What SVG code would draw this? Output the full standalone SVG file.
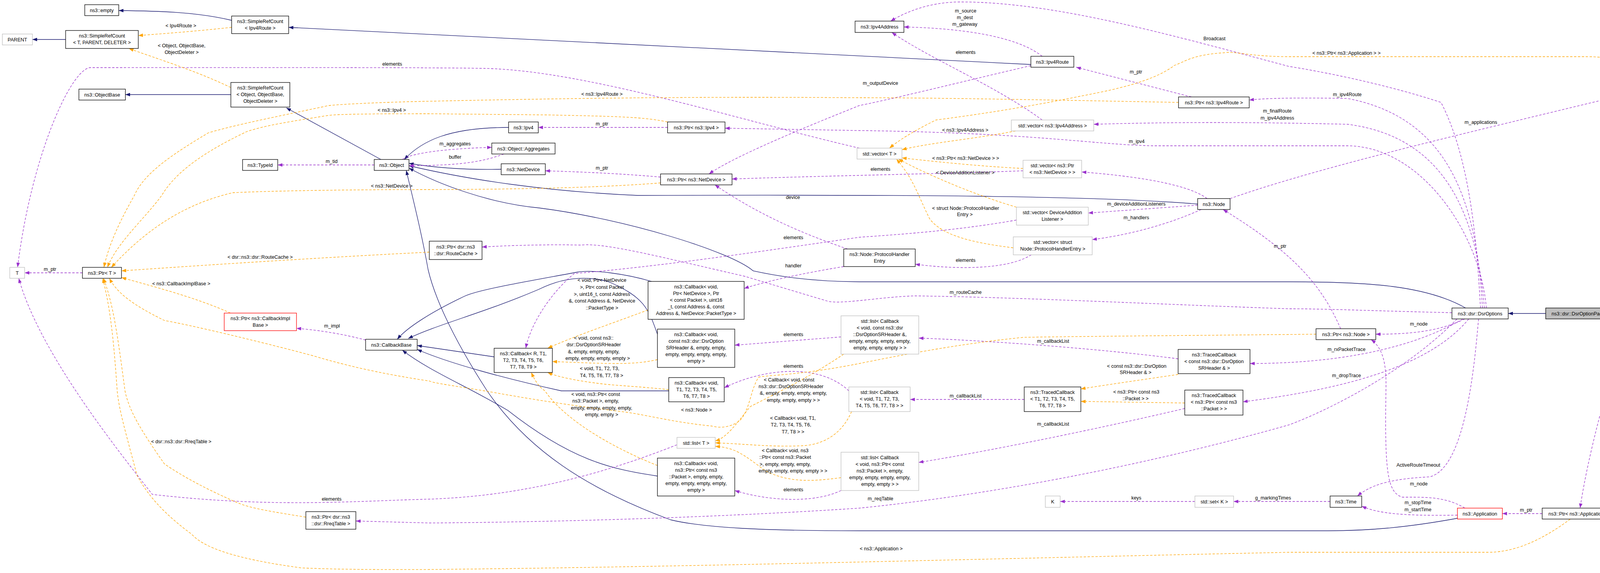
<svg xmlns="http://www.w3.org/2000/svg" width="4395" height="1466" viewBox="0 0 4395 1466">
<style>
rect{fill:#fff;stroke:#000;stroke-width:1.3}
.g rect{stroke:#bfbfbf}
.r rect{stroke:#f00}
.s rect{fill:#bfbfbf}
text{font-family:"Liberation Sans",Arial,sans-serif;font-size:12.5px;text-anchor:middle;fill:#000}
.i{fill:none;stroke:#191970;stroke-width:1.3;marker-end:url(#mb)}
.u{fill:none;stroke:#9a32cd;stroke-width:1.3;stroke-dasharray:6,4;marker-end:url(#mp)}
.o{fill:none;stroke:#ffa500;stroke-width:1.3;stroke-dasharray:6,4;marker-end:url(#mo)}
</style>
<defs>
<marker id="mb" markerUnits="userSpaceOnUse" markerWidth="12" markerHeight="9" refX="12" refY="4.5" orient="auto"><path d="M0,0L12,4.5L0,9z" fill="#191970"/></marker>
<marker id="mp" markerUnits="userSpaceOnUse" markerWidth="12" markerHeight="9" refX="12" refY="4.5" orient="auto"><path d="M0,0L12,4.5L0,9z" fill="#9a32cd"/></marker>
<marker id="mo" markerUnits="userSpaceOnUse" markerWidth="12" markerHeight="9" refX="12" refY="4.5" orient="auto"><path d="M0,0L12,4.5L0,9z" fill="#ffa500"/></marker>
</defs>
<rect x="0" y="0" width="4395" height="1466" style="stroke:none"/>
<g id="edges">
<!-- inheritance -->
<path class="i" d="M593,52 C500,30 400,28 304,27"/>
<path class="i" d="M2639,165 L739,70"/>
<path class="i" d="M168,101 L83,101"/>
<path class="i" d="M591,242 L321,242"/>
<path class="i" d="M975,408 L733,276"/>
<path class="i" d="M1302,326 C1150,326 1080,360 1035,408"/>
<path class="i" d="M1283,433 C1200,435 1120,430 1047,418"/>
<path class="i" d="M3066,522 C2800,500 2300,498 1633,500 C1400,490 1200,460 1047,424"/>
<path class="i" d="M3752,788 C3650,730 3500,721 3300,721 L2200,721 C2050,720 1960,700 1928,693 C1870,643 1600,560 1380,532 C1250,520 1120,470 1047,430"/>
<path class="i" d="M3731,1326 C3600,1350 3500,1358 3400,1358 L2200,1358 C1950,1358 1800,1350 1717,1330 C1500,1250 1350,1150 1247,1000 C1150,850 1110,750 1096,690 C1080,600 1060,520 1040,436"/>
<path class="i" d="M1668,720 C1600,700 1520,690 1479,696 C1350,720 1230,740 1191,757 C1100,800 1040,840 1017,868"/>
<path class="i" d="M1683,855 C1660,790 1650,760 1556,720 C1480,700 1420,720 1380,740 C1240,800 1120,830 1045,866"/>
<path class="i" d="M1265,913 L1068,884"/>
<path class="i" d="M1712,1000 L1437,1000 C1300,970 1150,930 1068,894"/>
<path class="i" d="M1683,1218 C1560,1200 1460,1175 1300,1050 C1200,990 1100,950 1030,896"/>
<path class="i" d="M3957,802 L3861,802"/>
<!-- usage -->
<path class="u" d="M958,422 L711,422"/>
<path class="u" d="M1031,407 C1060,390 1150,380 1259,377"/>
<path class="u" d="M1290,394 C1220,420 1150,423 1047,424"/>
<path class="u" d="M1709,326 L1378,326"/>
<path class="u" d="M1691,453 C1600,445 1500,440 1396,437"/>
<path class="u" d="M211,698 L63,698"/>
<path class="u" d="M936,870 C880,855 820,845 759,840"/>
<path class="u" d="M2668,144 C2600,90 2450,72 2314,69"/>
<path class="u" d="M2639,168 C2500,200 2300,250 2200,270 C2050,330 1880,400 1815,445"/>
<path class="u" d="M3050,248 L2755,172"/>
<path class="u" d="M2668,307 C2550,220 2380,150 2283,83"/>
<path class="u" d="M3790,788 C3780,600 3760,400 3689,262 C3500,200 3300,170 3300,170 C3000,90 2700,5 2460,5 C2380,5 2320,30 2280,54"/>
<path class="u" d="M3795,788 C3780,500 3700,300 3450,252 C3350,250 3250,250 3198,256"/>
<path class="u" d="M3800,788 C3780,550 3700,350 3450,318 C3200,312 3000,312 2800,318"/>
<path class="u" d="M3805,788 C3790,600 3640,375 3450,373 L2950,373 C2800,370 2650,340 2200,334 L1856,328"/>
<path class="u" d="M3149,508 C3400,420 3800,330 4242,222"/>
<path class="u" d="M3090,508 C3040,470 2900,450 2769,440"/>
<path class="u" d="M3066,525 L2786,545"/>
<path class="u" d="M3075,536 C3000,570 2900,600 2796,613"/>
<path class="u" d="M2640,652 C2580,690 2450,690 2343,676"/>
<path class="u" d="M2170,637 C2000,580 1900,520 1830,473"/>
<path class="u" d="M2160,682 C2050,700 1960,720 1905,738"/>
<path class="u" d="M2619,437 C2400,445 2100,450 1874,458"/>
<path class="u" d="M4310,222 C4250,600 4090,1000 4045,1300"/>
<path class="u" d="M3948,1314 L3846,1314"/>
<path class="u" d="M3731,1318 C3600,1320 3530,1315 3486,1295"/>
<path class="u" d="M3750,1300 C3700,1270 3650,1272 3590,1272 C3550,1260 3545,1200 3548,1000 C3550,930 3540,890 3510,869"/>
<path class="u" d="M3785,816 C3770,1000 3740,1200 3660,1220 C3560,1225 3510,1240 3475,1269"/>
<path class="u" d="M3432,841 C3380,720 3300,640 3131,536"/>
<path class="u" d="M3750,816 C3680,850 3600,855 3522,855"/>
<path class="u" d="M3745,816 C3600,900 3400,930 3200,930"/>
<path class="u" d="M3760,816 C3650,950 3400,1000 3182,1028"/>
<path class="u" d="M3016,918 C2800,890 2500,870 2352,865"/>
<path class="u" d="M2622,1022 L2330,1022"/>
<path class="u" d="M3033,1045 C2800,1100 2500,1160 2352,1183"/>
<path class="u" d="M2153,862 C2050,870 1950,878 1881,883"/>
<path class="u" d="M2173,1000 C2100,930 1960,940 1854,992"/>
<path class="u" d="M2153,1255 C2080,1290 1960,1280 1881,1255"/>
<path class="u" d="M1733,1138 C1500,1230 1300,1270 1100,1277 C900,1282 700,1300 390,1265 C300,1150 100,900 48,712"/>
<path class="u" d="M2200,379 C1900,310 1500,180 1240,175 C1100,172 500,173 230,173 C180,180 80,400 45,684"/>
<path class="u" d="M2602,563 C2450,590 2300,600 2200,607 C1900,650 1700,680 1470,700 C1420,740 1360,820 1346,891"/>
<path class="u" d="M3717,800 C3500,795 3400,790 3300,790 C3000,780 2600,760 2340,757 C2250,760 2150,780 2117,770 C2050,750 1950,720 1907,707 C1700,660 1550,620 1486,627 C1400,625 1300,628 1234,632"/>
<path class="u" d="M3730,816 C3600,950 3400,1050 3300,1087 C2900,1200 2500,1270 2200,1300 C1900,1320 1500,1335 1100,1338 L911,1333"/>
<path class="u" d="M3059,1283 L2714,1283"/>
<path class="u" d="M3405,1283 L3158,1283"/>
<!-- template -->
<path class="o" d="M593,70 C500,80 420,86 354,91"/>
<path class="o" d="M591,224 C500,180 400,150 330,124"/>
<path class="o" d="M3017,262 C2700,256 2400,250 2200,250 C1900,248 1600,248 1100,259 C950,262 860,268 842,270 C700,300 600,320 533,340 C450,390 370,440 344,500 C310,560 280,620 266,684"/>
<path class="o" d="M1709,312 C1650,300 1600,298 1400,294 L1100,291 C950,291 870,292 842,295 C750,310 680,320 631,337 C520,390 450,440 414,500 C370,560 300,620 275,684"/>
<path class="o" d="M1691,468 C1600,475 1450,484 1100,485 C900,485 700,488 596,493 C480,520 380,580 285,684"/>
<path class="o" d="M1099,645 C800,660 500,680 311,693"/>
<path class="o" d="M590,801 C500,760 380,730 311,710"/>
<path class="o" d="M783,1323 C700,1310 640,1300 610,1287 C500,1240 440,1200 421,1187 C360,1100 330,1050 320,1000 C300,850 290,780 265,712"/>
<path class="o" d="M4020,1328 C3950,1380 3880,1413 3810,1413 L3300,1413 C2500,1430 1800,1450 1100,1457 C900,1458 820,1455 772,1453 C600,1430 520,1400 491,1367 C400,1300 370,1250 351,1217 C320,1100 305,1050 300,1000 C290,850 280,780 263,712"/>
<path class="o" d="M3369,855 C3100,858 2800,860 2621,863 C2450,880 2300,910 2200,930 C2050,960 1960,960 1942,965 C1920,1000 1920,1050 1893,1077 C1860,1100 1830,1092 1822,1090 C1720,1080 1650,1060 1591,1053 C1400,1030 1300,1010 1240,1000 C1150,985 1110,980 1100,975 C1000,960 900,940 801,910 C650,870 480,830 421,820 C340,780 300,750 280,712"/>
<path class="o" d="M1659,793 C1560,830 1470,860 1402,891"/>
<path class="o" d="M1683,920 C1620,935 1550,930 1414,925"/>
<path class="o" d="M1712,997 C1650,990 1600,988 1549,983 C1480,975 1430,965 1402,953"/>
<path class="o" d="M1683,1191 C1580,1150 1450,1080 1395,1000 C1380,990 1370,975 1360,953"/>
<path class="o" d="M2160,906 C2080,960 2000,1000 1921,1040 C1880,1090 1860,1120 1831,1128"/>
<path class="o" d="M2180,1053 C2160,1100 2120,1135 2060,1140 C1980,1145 1900,1135 1831,1133"/>
<path class="o" d="M2153,1222 C2080,1232 2020,1235 1960,1205 C1900,1160 1880,1145 1831,1142"/>
<path class="o" d="M2600,335 C2500,355 2380,365 2309,383"/>
<path class="o" d="M2619,431 C2500,425 2380,412 2309,404"/>
<path class="o" d="M2602,530 C2500,500 2380,450 2300,407"/>
<path class="o" d="M2594,634 C2480,620 2410,600 2380,560 C2350,500 2340,460 2295,407"/>
<path class="o" d="M4242,177 C4150,150 4100,145 4060,145 L3300,145 C3200,145 3160,130 3133,135 C3050,140 3030,160 3007,167 C2950,210 2850,230 2761,247 C2600,280 2450,300 2396,307 C2330,340 2300,360 2277,379"/>
<path class="o" d="M3016,958 C2900,975 2830,985 2767,995"/>
<path class="o" d="M3033,1031 C2950,1030 2850,1028 2767,1027"/>
</g>
<!-- edge labels -->
<g id="labels">
<text x="463" y="70">&lt; Ipv4Route &gt;</text>
<text x="465" y="121">&lt; Object, ObjectBase,</text>
<text x="465" y="138">ObjectDeleter &gt;</text>
<text x="1004" y="168">elements</text>
<text x="1003" y="286">&lt; ns3::Ipv4 &gt;</text>
<text x="849" y="417">m_tid</text>
<text x="1003" y="480">&lt; ns3::NetDevice &gt;</text>
<text x="128" y="693">m_ptr</text>
<text x="666" y="662">&lt; dsr::ns3::dsr::RouteCache &gt;</text>
<text x="464" y="730">&lt; ns3::CallbackImplBase &gt;</text>
<text x="850" y="838">m_impl</text>
<text x="464" y="1134">&lt; dsr::ns3::dsr::RreqTable &gt;</text>
<text x="849" y="1281">elements</text>
<text x="1541" y="245">&lt; ns3::Ipv4Route &gt;</text>
<text x="1541" y="321">m_ptr</text>
<text x="1165" y="372">m_aggregates</text>
<text x="1165" y="406">buffer</text>
<text x="1541" y="434">m_ptr</text>
<text x="2030" y="509">device</text>
<text x="2031" y="612">elements</text>
<text x="2031" y="684">handler</text>
<text x="1541" y="721">&lt; void, Ptr&lt; NetDevice</text>
<text x="1541" y="739">&gt;, Ptr&lt; const Packet</text>
<text x="1541" y="757">&gt;, uint16_t, const Address</text>
<text x="1541" y="774">&amp;, const Address &amp;, NetDevice</text>
<text x="1541" y="792">::PacketType &gt;</text>
<text x="1520" y="869">&lt; void, const ns3::</text>
<text x="1520" y="886">dsr::DsrOptionSRHeader</text>
<text x="1520" y="904">&amp;, empty, empty, empty,</text>
<text x="1530" y="921">empty, empty, empty, empty &gt;</text>
<text x="2031" y="860">elements</text>
<text x="1535" y="947">&lt; void, T1, T2, T3,</text>
<text x="1540" y="965">T4, T5, T6, T7, T8 &gt;</text>
<text x="2031" y="941">elements</text>
<text x="2020" y="976">&lt; Callback&lt; void, const</text>
<text x="2025" y="993">ns3::dsr::DsrOptionSRHeader</text>
<text x="2031" y="1010">&amp;, empty, empty, empty, empty,</text>
<text x="2031" y="1028">empty, empty, empty &gt; &gt;</text>
<text x="1525" y="1013">&lt; void, ns3::Ptr&lt; const</text>
<text x="1525" y="1030">ns3::Packet &gt;, empty,</text>
<text x="1540" y="1048">empty, empty, empty, empty,</text>
<text x="1540" y="1065">empty, empty &gt;</text>
<text x="1783" y="1053">&lt; ns3::Node &gt;</text>
<text x="2030" y="1074">&lt; Callback&lt; void, T1,</text>
<text x="2025" y="1091">T2, T3, T4, T5, T6,</text>
<text x="2030" y="1109">T7, T8 &gt; &gt;</text>
<text x="2010" y="1157">&lt; Callback&lt; void, ns3</text>
<text x="2010" y="1174">::Ptr&lt; const ns3::Packet</text>
<text x="2010" y="1192">&gt;, empty, empty, empty,</text>
<text x="2030" y="1209">empty, empty, empty, empty &gt; &gt;</text>
<text x="2031" y="1257">elements</text>
<text x="2472" y="32">m_source</text>
<text x="2470" y="49">m_dest</text>
<text x="2470" y="66">m_gateway</text>
<text x="3109" y="103">Broadcast</text>
<text x="2472" y="138">elements</text>
<text x="2254" y="217">m_outputDevice</text>
<text x="2908" y="188">m_ptr</text>
<text x="3270" y="288">m_finalRoute</text>
<text x="3270" y="306">m_ipv4Address</text>
<text x="2471" y="337">&lt; ns3::Ipv4Address &gt;</text>
<text x="2910" y="366">m_ipv4</text>
<text x="2472" y="409">&lt; ns3::Ptr&lt; ns3::NetDevice &gt; &gt;</text>
<text x="2254" y="437">elements</text>
<text x="2471" y="446">&lt; DeviceAdditionListener &gt;</text>
<text x="2909" y="526">m_deviceAdditionListeners</text>
<text x="2472" y="537">&lt; struct Node::ProtocolHandler</text>
<text x="2470" y="553">Entry &gt;</text>
<text x="2909" y="561">m_handlers</text>
<text x="3277" y="634">m_ptr</text>
<text x="2472" y="670">elements</text>
<text x="2472" y="752">m_routeCache</text>
<text x="2696" y="877">m_callbackList</text>
<text x="2910" y="941">&lt; const ns3::dsr::DsrOption</text>
<text x="2907" y="957">SRHeader &amp; &gt;</text>
<text x="2472" y="1017">m_callbackList</text>
<text x="2909" y="1007">&lt; ns3::Ptr&lt; const ns3</text>
<text x="2907" y="1024">::Packet &gt; &gt;</text>
<text x="2696" y="1089">m_callbackList</text>
<text x="2254" y="1280">m_reqTable</text>
<text x="2909" y="1278">keys</text>
<text x="3259" y="1278">g_markingTimes</text>
<text x="2256" y="1408">&lt; ns3::Application &gt;</text>
<text x="3447" y="140">&lt; ns3::Ptr&lt; ns3::Application &gt; &gt;</text>
<text x="3449" y="246">m_ipv4Route</text>
<text x="3791" y="317">m_applications</text>
<text x="4189" y="620">elements</text>
<text x="3632" y="833">m_node</text>
<text x="3447" y="898">m_rxPacketTrace</text>
<text x="3447" y="965">m_dropTrace</text>
<text x="3631" y="1194">ActiveRouteTimeout</text>
<text x="3632" y="1242">m_node</text>
<text x="3630" y="1290">m_stopTime</text>
<text x="3630" y="1308">m_startTime</text>
<text x="3907" y="1309">m_ptr</text>
</g>
<!-- nodes -->
<g id="n_empty"><rect x="217" y="12" width="87" height="28"/><text x="260.5" y="30.5">ns3::empty</text></g>
<g id="n_srcIpv4Route"><rect x="593" y="41" width="146" height="45"/><text x="666" y="59">ns3::SimpleRefCount</text><text x="666" y="76">&lt; Ipv4Route &gt;</text></g>
<g id="n_parent" class="g"><rect x="6" y="87" width="77" height="28"/><text x="44.5" y="105.5">PARENT</text></g>
<g id="n_srcT"><rect x="168" y="78" width="186" height="46"/><text x="261" y="96">ns3::SimpleRefCount</text><text x="261" y="113">&lt; T, PARENT, DELETER &gt;</text></g>
<g id="n_objectBase"><rect x="202" y="228" width="119" height="28"/><text x="261.5" y="246.5">ns3::ObjectBase</text></g>
<g id="n_srcObject"><rect x="591" y="211" width="151" height="63"/><text x="666.5" y="229">ns3::SimpleRefCount</text><text x="666.5" y="246">&lt; Object, ObjectBase,</text><text x="666.5" y="263">ObjectDeleter &gt;</text></g>
<g id="n_typeId"><rect x="621" y="408" width="90" height="28"/><text x="666" y="426.5">ns3::TypeId</text></g>
<g id="n_object"><rect x="958" y="408" width="89" height="28"/><text x="1002.5" y="426.5">ns3::Object</text></g>
<g id="n_T" class="g"><rect x="25" y="684" width="38" height="28"/><text x="44" y="702.5">T</text></g>
<g id="n_ptrT"><rect x="211" y="684" width="100" height="28"/><text x="261" y="702.5">ns3::Ptr&lt; T &gt;</text></g>
<g id="n_ptrCbImpl" class="r"><rect x="574" y="801" width="185" height="45"/><text x="666.5" y="819">ns3::Ptr&lt; ns3::CallbackImpl</text><text x="666.5" y="836">Base &gt;</text></g>
<g id="n_callbackBase"><rect x="936" y="868" width="132" height="28"/><text x="1002" y="886.5">ns3::CallbackBase</text></g>
<g id="n_ptrRreq"><rect x="783" y="1309" width="128" height="45"/><text x="847" y="1327">ns3::Ptr&lt; dsr::ns3</text><text x="847" y="1344">::dsr::RreqTable &gt;</text></g>
<g id="n_ipv4"><rect x="1302" y="312" width="76" height="28"/><text x="1340" y="330.5">ns3::Ipv4</text></g>
<g id="n_ptrIpv4"><rect x="1709" y="312" width="147" height="28"/><text x="1782.5" y="330.5">ns3::Ptr&lt; ns3::Ipv4 &gt;</text></g>
<g id="n_aggregates"><rect x="1259" y="366" width="162" height="28"/><text x="1340" y="384.5">ns3::Object::Aggregates</text></g>
<g id="n_netDevice"><rect x="1283" y="419" width="113" height="28"/><text x="1339.5" y="437.5">ns3::NetDevice</text></g>
<g id="n_ptrNetDevice"><rect x="1691" y="445" width="183" height="28"/><text x="1782.5" y="463.5">ns3::Ptr&lt; ns3::NetDevice &gt;</text></g>
<g id="n_ptrRouteCache"><rect x="1099" y="617" width="135" height="47"/><text x="1166.5" y="636">ns3::Ptr&lt; dsr::ns3</text><text x="1166.5" y="653">::dsr::RouteCache &gt;</text></g>
<g id="n_cbNetDevice"><rect x="1659" y="720" width="246" height="97"/><text x="1782" y="738">ns3::Callback&lt; void,</text><text x="1782" y="755">Ptr&lt; NetDevice &gt;, Ptr</text><text x="1782" y="772">&lt; const Packet &gt;, uint16</text><text x="1782" y="789">_t, const Address &amp;, const</text><text x="1782" y="806">Address &amp;, NetDevice::PacketType &gt;</text></g>
<g id="n_cbDsr"><rect x="1683" y="842" width="198" height="98"/><text x="1782" y="860">ns3::Callback&lt; void,</text><text x="1782" y="877">const ns3::dsr::DsrOption</text><text x="1782" y="894">SRHeader &amp;, empty, empty,</text><text x="1782" y="911">empty, empty, empty, empty,</text><text x="1782" y="928">empty &gt;</text></g>
<g id="n_cbR"><rect x="1265" y="891" width="149" height="62"/><text x="1339.5" y="909">ns3::Callback&lt; R, T1,</text><text x="1339.5" y="926">T2, T3, T4, T5, T6,</text><text x="1339.5" y="943">T7, T8, T9 &gt;</text></g>
<g id="n_cbT"><rect x="1712" y="966" width="142" height="62"/><text x="1783" y="984">ns3::Callback&lt; void,</text><text x="1783" y="1001">T1, T2, T3, T4, T5,</text><text x="1783" y="1018">T6, T7, T8 &gt;</text></g>
<g id="n_listT" class="g"><rect x="1733" y="1119" width="98" height="28"/><text x="1782" y="1137.5">std::list&lt; T &gt;</text></g>
<g id="n_cbPkt"><rect x="1683" y="1172" width="198" height="97"/><text x="1782" y="1190">ns3::Callback&lt; void,</text><text x="1782" y="1207">ns3::Ptr&lt; const ns3</text><text x="1782" y="1224">::Packet &gt;, empty, empty,</text><text x="1782" y="1241">empty, empty, empty, empty,</text><text x="1782" y="1258">empty &gt;</text></g>
<g id="n_phe"><rect x="2160" y="637" width="183" height="45"/><text x="2251.5" y="655">ns3::Node::ProtocolHandler</text><text x="2251.5" y="672">Entry</text></g>
<g id="n_listDsr" class="g"><rect x="2153" y="808" width="199" height="98"/><text x="2252.5" y="826">std::list&lt; Callback</text><text x="2252.5" y="843">&lt; void, const ns3::dsr</text><text x="2252.5" y="860">::DsrOptionSRHeader &amp;,</text><text x="2252.5" y="877">empty, empty, empty, empty,</text><text x="2252.5" y="894">empty, empty, empty &gt; &gt;</text></g>
<g id="n_listCbT" class="g"><rect x="2173" y="990" width="157" height="63"/><text x="2251.5" y="1008">std::list&lt; Callback</text><text x="2251.5" y="1025">&lt; void, T1, T2, T3,</text><text x="2251.5" y="1042">T4, T5, T6, T7, T8 &gt; &gt;</text></g>
<g id="n_listPkt" class="g"><rect x="2153" y="1157" width="199" height="98"/><text x="2252.5" y="1175">std::list&lt; Callback</text><text x="2252.5" y="1192">&lt; void, ns3::Ptr&lt; const</text><text x="2252.5" y="1209">ns3::Packet &gt;, empty,</text><text x="2252.5" y="1226">empty, empty, empty, empty,</text><text x="2252.5" y="1243">empty, empty &gt; &gt;</text></g>
<g id="n_ipv4Address"><rect x="2189" y="54" width="125" height="29"/><text x="2251.5" y="73">ns3::Ipv4Address</text></g>
<g id="n_ipv4Route"><rect x="2639" y="144" width="110" height="28"/><text x="2694" y="162.5">ns3::Ipv4Route</text></g>
<g id="n_ptrIpv4Route"><rect x="3017" y="248" width="181" height="28"/><text x="3107.5" y="266.5">ns3::Ptr&lt; ns3::Ipv4Route &gt;</text></g>
<g id="n_vecIpv4Addr" class="g"><rect x="2589" y="307" width="211" height="28"/><text x="2694.5" y="325.5">std::vector&lt; ns3::Ipv4Address &gt;</text></g>
<g id="n_vecT" class="g"><rect x="2194" y="379" width="115" height="28"/><text x="2251.5" y="397.5">std::vector&lt; T &gt;</text></g>
<g id="n_vecPtrNd" class="g"><rect x="2619" y="410" width="150" height="45"/><text x="2694" y="428">std::vector&lt; ns3::Ptr</text><text x="2694" y="445">&lt; ns3::NetDevice &gt; &gt;</text></g>
<g id="n_node"><rect x="3066" y="508" width="83" height="28"/><text x="3107.5" y="526.5">ns3::Node</text></g>
<g id="n_vecDal" class="g"><rect x="2602" y="530" width="184" height="46"/><text x="2694" y="548">std::vector&lt; DeviceAddition</text><text x="2694" y="565">Listener &gt;</text></g>
<g id="n_vecPhe" class="g"><rect x="2594" y="606" width="202" height="46"/><text x="2695" y="624">std::vector&lt; struct</text><text x="2695" y="641">Node::ProtocolHandlerEntry &gt;</text></g>
<g id="n_tcDsr"><rect x="3016" y="894" width="184" height="62"/><text x="3108" y="912">ns3::TracedCallback</text><text x="3108" y="929">&lt; const ns3::dsr::DsrOption</text><text x="3108" y="946">SRHeader &amp; &gt;</text></g>
<g id="n_tcT"><rect x="2622" y="990" width="145" height="63"/><text x="2694.5" y="1008">ns3::TracedCallback</text><text x="2694.5" y="1025">&lt; T1, T2, T3, T4, T5,</text><text x="2694.5" y="1042">T6, T7, T8 &gt;</text></g>
<g id="n_tcPkt"><rect x="3033" y="998" width="149" height="64"/><text x="3107.5" y="1016">ns3::TracedCallback</text><text x="3107.5" y="1033">&lt; ns3::Ptr&lt; const ns3</text><text x="3107.5" y="1050">::Packet &gt; &gt;</text></g>
<g id="n_K" class="g"><rect x="2676" y="1269" width="38" height="29"/><text x="2695" y="1288">K</text></g>
<g id="n_setK" class="g"><rect x="3059" y="1269" width="99" height="29"/><text x="3108.5" y="1288">std::set&lt; K &gt;</text></g>
<g id="n_vecApp" class="g"><rect x="4242" y="177" width="151" height="45"/><text x="4317.5" y="195">std::vector&lt; ns3::Ptr</text><text x="4317.5" y="212">&lt; ns3::Application &gt; &gt;</text></g>
<g id="n_dsrOptions"><rect x="3717" y="788" width="144" height="28"/><text x="3789" y="806.5">ns3::dsr::DsrOptions</text></g>
<g id="n_padn" class="s"><rect x="3957" y="788" width="167" height="28"/><text x="4040.5" y="806.5">ns3::dsr::DsrOptionPadn</text></g>
<g id="n_ptrNode"><rect x="3369" y="841" width="153" height="28"/><text x="3445.5" y="859.5">ns3::Ptr&lt; ns3::Node &gt;</text></g>
<g id="n_time"><rect x="3405" y="1269" width="81" height="29"/><text x="3445.5" y="1288">ns3::Time</text></g>
<g id="n_application" class="r"><rect x="3731" y="1300" width="115" height="28"/><text x="3788.5" y="1318.5">ns3::Application</text></g>
<g id="n_ptrApp"><rect x="3948" y="1300" width="185" height="28"/><text x="4040.5" y="1318.5">ns3::Ptr&lt; ns3::Application &gt;</text></g>
</svg>
